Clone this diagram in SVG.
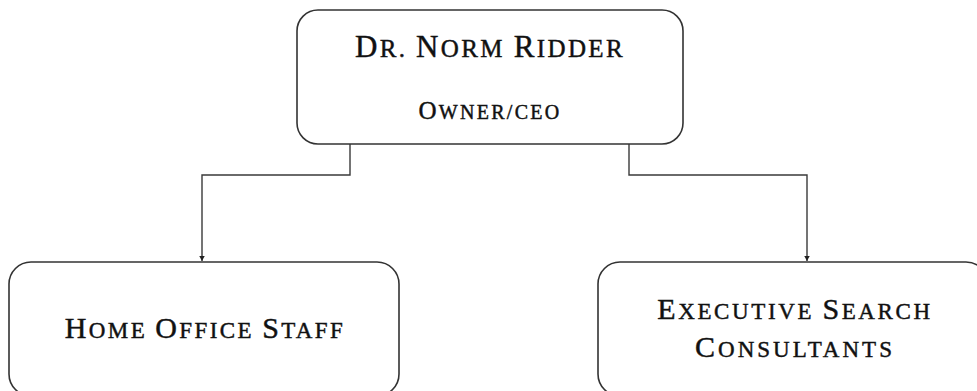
<svg xmlns="http://www.w3.org/2000/svg" width="977" height="391" viewBox="0 0 977 391">
  <defs>
    <marker id="arrow" markerUnits="userSpaceOnUse" markerWidth="7" markerHeight="7" refX="5.5" refY="3" orient="auto">
      <path d="M0,0 L5.5,3 L0,6 z" fill="#222"/>
    </marker>
  </defs>
  <style>
    .box { fill: #ffffff; stroke: #333333; stroke-width: 1.6; }
    .conn { fill: none; stroke: #3a3a3a; stroke-width: 1.4; }
    .t { font-family: "Liberation Serif", "Times New Roman", serif; fill: #111111; stroke: #111111; stroke-width: 0.45; text-anchor: middle; }
  </style>
  <rect width="977" height="391" fill="#ffffff"/>

  <g id="connectors">
    <path class="conn" d="M350,144 V175 H202 V261" marker-end="url(#arrow)"/>
    <path class="conn" d="M629,144 V175 H807 V261" marker-end="url(#arrow)"/>
  </g>

  <g id="node-ceo">
    <rect class="box" x="297" y="10" width="386" height="134" rx="21" ry="21"/>
    <text class="t" x="490" y="57" font-size="25" letter-spacing="2.4"><tspan font-size="31">D</tspan>R. <tspan font-size="31">N</tspan>ORM <tspan font-size="31">R</tspan>IDDER</text>
    <text class="t" x="490" y="119" font-size="20" letter-spacing="2.3"><tspan font-size="25">O</tspan>WNER/CEO</text>
  </g>

  <g id="node-home-office">
    <rect class="box" x="9" y="262" width="390" height="134" rx="22" ry="22"/>
    <text class="t" x="205" y="338" font-size="23" letter-spacing="2.4"><tspan font-size="30">H</tspan>OME <tspan font-size="30">O</tspan>FFICE <tspan font-size="30">S</tspan>TAFF</text>
  </g>

  <g id="node-exec-search">
    <rect class="box" x="598" y="262" width="390" height="134" rx="22" ry="22"/>
    <text class="t" x="795" y="319" font-size="23" letter-spacing="2.6"><tspan font-size="30">E</tspan>XECUTIVE <tspan font-size="30">S</tspan>EARCH</text>
    <text class="t" x="795" y="357" font-size="23" letter-spacing="3"><tspan font-size="30">C</tspan>ONSULTANTS</text>
  </g>
</svg>
